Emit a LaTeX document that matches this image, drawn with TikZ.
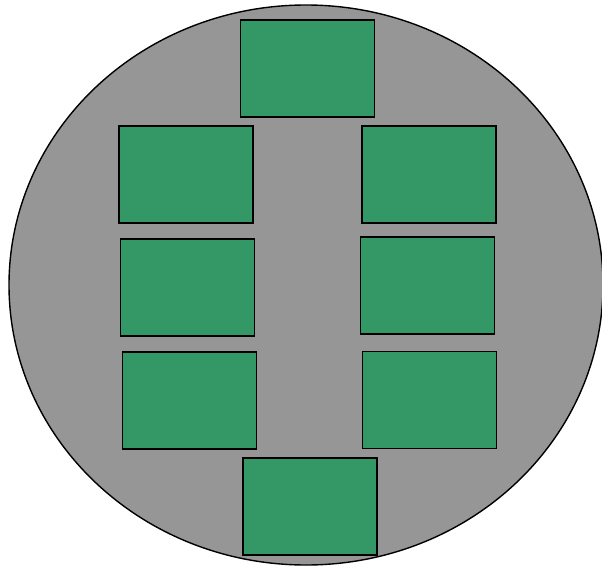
\documentclass[tikz,border=0pt]{standalone}
\usepackage{xcolor}
\usepackage{tikz}
\definecolor{tableColor}{RGB}{150, 150, 150}
\definecolor{seatColor}{RGB}{52, 152, 102}

\begin{document}
\begin{tikzpicture}[x=1pt, y=-1pt,
    seat/.style={draw=black, line width=1.4pt, fill=seatColor, minimum width=134pt, minimum height=97pt, inner sep=0pt}]
					% Picture frame
					\useasboundingbox (0, 0) rectangle (602, 567);
					% Table
					\draw[line width=1.4pt, fill=tableColor] (306, 285) ellipse [x radius=297, y radius=280];
					
					% Head and foot
					\node[seat] (headSeat) at (307.5, 68.5) {};
					\node[seat] (footSeat) at (310, 506.5) {};
					
					% Left side
					\node[seat] (leftA) at (186, 174.5) {};
					\node[seat] (leftB) at (187.5, 287.5) {};
					\node[seat] (leftC) at (189.5, 400.5) {};
					
					% Right side
					\node[seat] (rightA) at (429, 174.5) {};
					\node[seat] (rightB) at (427.5, 285.5) {};
					\node[seat] (rightC) at (429.5, 400) {};
				\end{tikzpicture}
\end{document}
